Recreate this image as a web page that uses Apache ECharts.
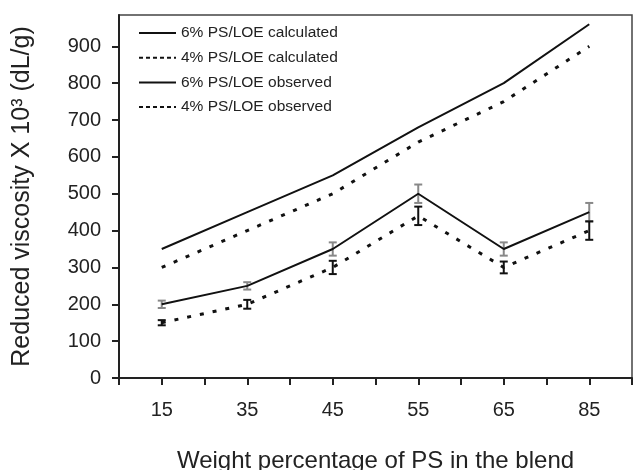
<!DOCTYPE html>
<html><head><meta charset="utf-8">
<script src="https://cdn.jsdelivr.net/npm/echarts@6/dist/echarts.min.js"></script>
<style>html,body{margin:0;padding:0;background:#fff}#c{width:633px;height:470px}</style>
</head><body><div id="c"></div>
<script>
var categories = ['15','35','45','55','65','85'];
var yTicks = [0,100,200,300,400,500,600,700,800,900];
var calc6 = [350,450,550,680,800,960];
var calc4 = [300,400,500,640,750,900];
var obs6 = [200,250,350,500,350,450];
var obs4 = [150,200,300,440,300,400];
var err6 = [10,10,18,25,18,25];
var err4 = [7,12,18,25,16,25];

var FONT = 'Liberation Sans, Arial, sans-serif';
function pts(arr){ return arr.map(function(v,i){ return [i*2+1, v]; }); }
function errData(vals, errs){ return vals.map(function(v,i){ return [i*2+1, v-errs[i], v+errs[i]]; }); }
function errSeries(vals, errs, color){
  return {
    type:'custom', silent:true, z:3,
    data: errData(vals, errs),
    renderItem: function(params, api){
      var lo = api.coord([api.value(0), api.value(1)]);
      var hi = api.coord([api.value(0), api.value(2)]);
      var w = 4;
      var st = {stroke: color, lineWidth: 2};
      return {type:'group', children:[
        {type:'line', shape:{x1:lo[0],y1:lo[1],x2:hi[0],y2:hi[1]}, style:st},
        {type:'line', shape:{x1:lo[0]-w,y1:lo[1],x2:lo[0]+w,y2:lo[1]}, style:st},
        {type:'line', shape:{x1:hi[0]-w,y1:hi[1],x2:hi[0]+w,y2:hi[1]}, style:st}
      ]};
    }
  };
}
var chart = echarts.init(document.getElementById('c'));
var dashed = [4,9];
chart.setOption({
  animation:false,
  backgroundColor:'#fff',
  textStyle:{fontFamily:FONT},
  grid:{left:119, top:15, right:1, bottom:92, show:true, borderColor:'#444', borderWidth:1.5,
        containLabel:false, outerBoundsMode:'none'},
  legend:{
    orient:'vertical', left:133, top:20, itemWidth:37, itemHeight:14, itemGap:8.7,
    itemStyle:{opacity:0, color:'transparent', borderWidth:0},
    textStyle:{fontSize:15.5, color:'#222', fontFamily:FONT},
    data:[
      {name:'6% PS/LOE calculated'},
      {name:'4% PS/LOE calculated', lineStyle:{type:[4,3], width:2}},
      {name:'6% PS/LOE observed'},
      {name:'4% PS/LOE observed', lineStyle:{type:[4,3], width:2}}
    ]
  },
  xAxis:{
    type:'value', min:0, max:12, interval:1,
    name:'Weight percentage of PS in the blend', nameLocation:'middle', nameGap:71,
    nameMoveOverlap:false,
    nameTextStyle:{fontSize:24, color:'#222', fontFamily:FONT},
    axisLine:{lineStyle:{color:'#222', width:2}},
    axisTick:{show:true, length:7, lineStyle:{color:'#222', width:2}},
    splitLine:{show:false},
    axisLabel:{customValues:[1,3,5,7,9,11], fontSize:20, color:'#222', margin:22,
      formatter:function(v){ return categories[(v-1)/2]; }}
  },
  yAxis:{
    type:'value', min:0, max:985,
    name:'Reduced viscosity X 10\u00b3 (dL/g)', nameLocation:'middle', nameGap:84,
    nameMoveOverlap:false,
    nameTextStyle:{fontSize:25, color:'#222', fontFamily:FONT},
    axisLine:{lineStyle:{color:'#222', width:2}},
    axisTick:{show:true, length:7, customValues:yTicks, lineStyle:{color:'#222', width:2}},
    splitLine:{show:false},
    axisLabel:{customValues:yTicks, fontSize:20, color:'#222', margin:18}
  },
  series:[
    {name:'6% PS/LOE calculated', type:'line', data:pts(calc6), symbol:'none',
     lineStyle:{color:'#111', width:2}, itemStyle:{color:'#111'}},
    {name:'4% PS/LOE calculated', type:'line', data:pts(calc4), symbol:'none',
     lineStyle:{color:'#111', width:3, type:dashed}, itemStyle:{color:'#111'}},
    {name:'6% PS/LOE observed', type:'line', data:pts(obs6), symbol:'none',
     lineStyle:{color:'#111', width:2}, itemStyle:{color:'#111'}},
    {name:'4% PS/LOE observed', type:'line', data:pts(obs4), symbol:'none',
     lineStyle:{color:'#111', width:3, type:dashed}, itemStyle:{color:'#111'}},
    errSeries(obs6, err6, '#888'),
    errSeries(obs4, err4, '#111')
  ]
});
</script></body></html>
